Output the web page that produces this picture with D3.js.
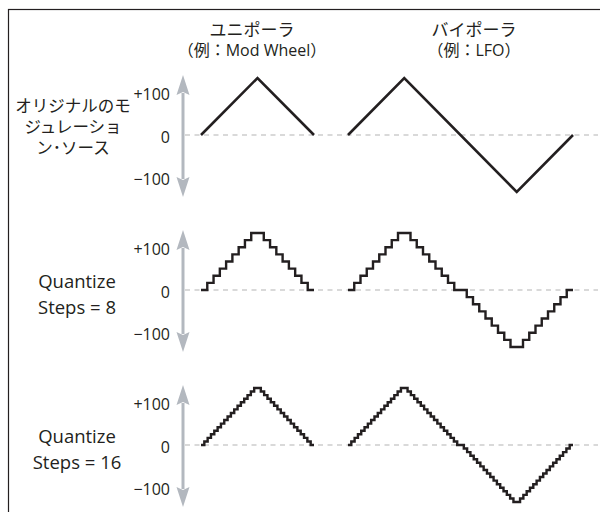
<!DOCTYPE html>
<html>
<head>
<meta charset="utf-8">
<script src="https://cdn.jsdelivr.net/npm/d3@7/dist/d3.min.js"></script>
<style>
  html, body { margin: 0; padding: 0; background: #fff; }
  svg { display: block; }
  text { font-family: "Open Sans", "Noto Sans CJK JP", sans-serif; fill: #231f20; }
</style>
</head>
<body>
<svg id="chart" width="600" height="512"></svg>
<script>
// Source modulation waveforms: key points (time in quarter-periods, value)
const unipolarTime = [0, 1, 2];
const unipolarValue = [0, 100, 0];
const bipolarTime = [0, 1, 3, 4];
const bipolarValue = [0, 100, -100, 0];

// Quantize settings per row (null = original source)
const quantizeSteps = [null, 8, 16];

// Column headings
const columnTitles = [
  ["ユニポーラ", "（例：Mod Wheel）"],
  ["バイポーラ", "（例：LFO）"]
];

// Row labels
const rowLabels = [
  ["オリジナルのモ", "ジュレーショ", "ン･ソース"],
  ["Quantize", "Steps = 8"],
  ["Quantize", "Steps = 16"]
];

// Axis tick values and their labels
const tickValues = [100, 0, -100];
const tickLabels = ["+100", "0", "−100"];

const svg = d3.select("#chart");
const ink = "#231f20";
const axisGrey = "#b3b8bf";
const dashGrey = "#b4b4b4";

// Frame (left and top edges visible)
svg.append("rect")
  .attr("x", 8.5).attr("y", 9.5)
  .attr("width", 620).attr("height", 620)
  .attr("fill", "none").attr("stroke", ink).attr("stroke-width", 1.2);

// Horizontal scales for each column
const xUni = d3.scaleLinear().domain([0, 2]).range([201, 314]);
const xBi = d3.scaleLinear().domain([0, 4]).range([348, 573]);

// Row layout: zero-line position of each panel
const rowZero = d3.scalePoint().domain([0, 1, 2]).range([135, 445]);
const amp = 57;

// Column headings
const titleX = [252, 474];
columnTitles.forEach((lines, i) => {
  svg.append("text").attr("x", titleX[i]).attr("y", 29)
    .attr("text-anchor", "middle").attr("dominant-baseline", "central")
    .attr("font-size", 17).text(lines[0]);
  svg.append("text").attr("x", titleX[i]).attr("y", 50)
    .attr("text-anchor", "middle").attr("dominant-baseline", "central")
    .attr("font-size", 16).text(lines[1]);
});

// Quantized level of a value for n steps
function qLevel(v, n) {
  const k = Math.min(n, Math.floor(Math.abs(v) * (n + 1) / 100 + 1e-9));
  return Math.sign(v) * k * 100 / n;
}

// Build stair points from a piecewise-linear source
function stairPoints(ts, vs, n) {
  const pts = [[ts[0], qLevel(vs[0], n)]];
  let cur = qLevel(vs[0], n);
  for (let i = 0; i < ts.length - 1; i++) {
    const t0 = ts[i], t1 = ts[i + 1], v0 = vs[i], v1 = vs[i + 1];
    const dir = Math.sign(v1 - v0);
    const ths = [];
    for (let j = 1; j <= n; j++) {
      [j * 100 / (n + 1), -j * 100 / (n + 1)].forEach(th => {
        if ((th - v0) * (th - v1) < 0) ths.push(th);
      });
    }
    ths.sort((a, b) => dir * (a - b));
    ths.forEach(th => {
      const t = t0 + (th - v0) / (v1 - v0) * (t1 - t0);
      const next = qLevel(th + dir * 1e-6, n);
      pts.push([t, cur]);
      pts.push([t, next]);
      cur = next;
    });
  }
  pts.push([ts[ts.length - 1], cur]);
  return pts;
}

const axisX = 183;

quantizeSteps.forEach((n, r) => {
  const z = rowZero(r);
  const y = d3.scaleLinear().domain([-100, 100]).range([z + amp, z - amp]);
  const g = svg.append("g");

  // Dashed zero line
  g.append("line")
    .attr("x1", 185).attr("x2", 598)
    .attr("y1", y(0)).attr("y2", y(0))
    .attr("stroke", dashGrey).attr("stroke-width", 1.2)
    .attr("stroke-dasharray", "5,4.5");

  // Vertical double-headed axis arrow
  const top = z - 60, bot = z + 62, head = 20, hw = 6.5;
  g.append("line")
    .attr("x1", axisX).attr("x2", axisX)
    .attr("y1", top + head - 2).attr("y2", bot - head + 2)
    .attr("stroke", axisGrey).attr("stroke-width", 3);
  g.append("path")
    .attr("d", `M${axisX},${top} L${axisX + hw},${top + head} L${axisX},${top + head - 3} L${axisX - hw},${top + head} Z`)
    .attr("fill", axisGrey);
  g.append("path")
    .attr("d", `M${axisX},${bot} L${axisX + hw},${bot - head} L${axisX},${bot - head + 3} L${axisX - hw},${bot - head} Z`)
    .attr("fill", axisGrey);

  // Tick labels sit inside the arrow span
  const labelY = d3.scaleLinear().domain([-100, 100]).range([z + 44, z - 41]);
  tickValues.forEach((v, i) => {
    g.append("text")
      .attr("x", 170).attr("y", labelY(v))
      .attr("text-anchor", "end").attr("dominant-baseline", "central")
      .attr("font-size", 16).text(tickLabels[i]);
  });

  // Row label, one text block with a line per tspan
  const lines = rowLabels[r];
  const lh = r === 0 ? 21 : 26;
  const fs = r === 0 ? 16.5 : 18.5;
  const cx = r === 0 ? 73 : 77;
  const cy = r === 0 ? z - 9 : z + 3;
  const label = g.append("text")
    .attr("text-anchor", "middle").attr("dominant-baseline", "central")
    .attr("font-size", fs);
  lines.forEach((s, i) => {
    label.append("tspan")
      .attr("x", cx).attr("y", cy + (i - (lines.length - 1) / 2) * lh)
      .text(s);
  });

  // Waveforms
  const series = [
    { x: xUni, t: unipolarTime, v: unipolarValue },
    { x: xBi, t: bipolarTime, v: bipolarValue }
  ];
  series.forEach(s => {
    const pts = n === null
      ? s.t.map((t, i) => [t, s.v[i]])
      : stairPoints(s.t, s.v, n);
    const line = d3.line().x(d => s.x(d[0])).y(d => y(d[1]));
    g.append("path")
      .attr("d", line(pts))
      .attr("fill", "none")
      .attr("stroke", ink)
      .attr("stroke-width", n === null ? 2.6 : 2.4)
      .attr("stroke-linejoin", "miter")
      .attr("stroke-linecap", "butt");
  });
});
</script>
</body>
</html>
